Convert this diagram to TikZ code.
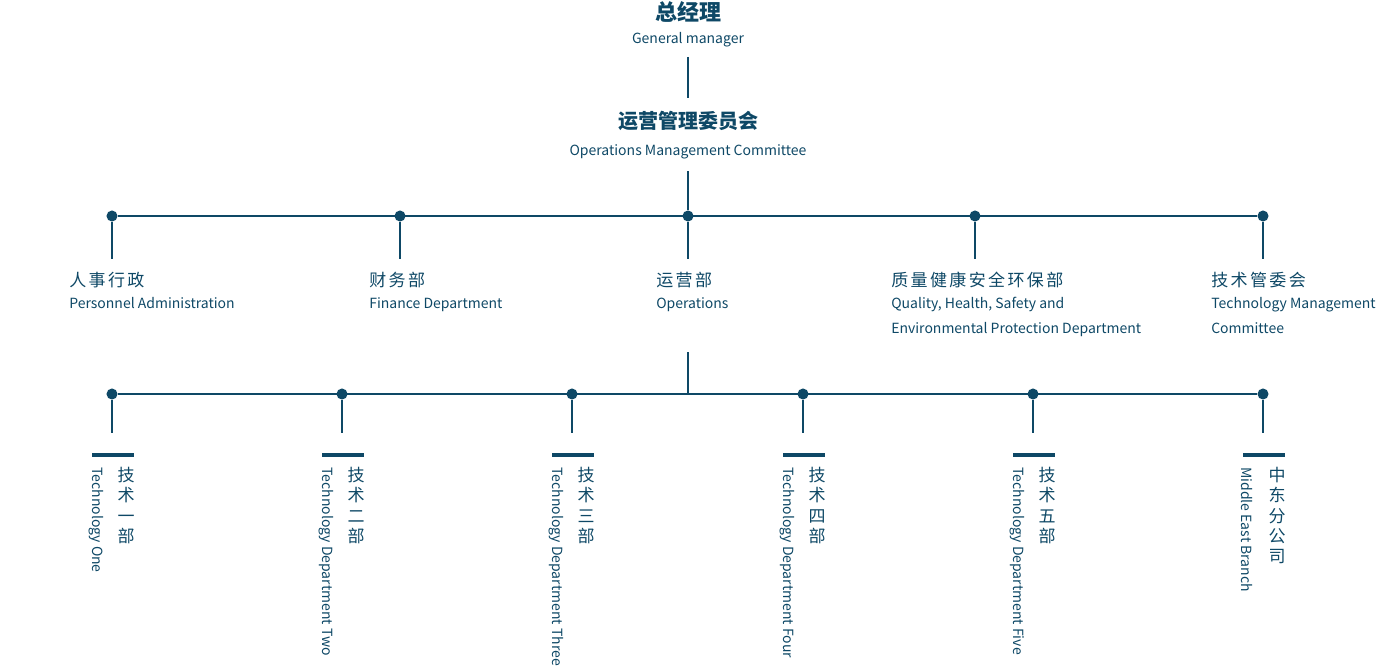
\documentclass[tikz,border=0pt]{standalone}
\usepackage{fontspec}
\newfontfamily\cjk{Noto Sans CJK SC}
\newfontfamily\cjkwide[LetterSpace=14]{Noto Sans CJK SC}
\definecolor{orgblue}{HTML}{0E4866}

\tikzset{
  link/.style={draw=orgblue,line width=1pt},
  dot/.style={circle,fill=orgblue,inner sep=0pt,minimum size=8.3pt},
  bar/.style={draw=orgblue,line width=2.4pt},
  title/.style={font=\cjk\bfseries\fontsize{16.5}{18}\selectfont,anchor=base},
  head/.style={font=\cjk\bfseries\fontsize{15}{17}\selectfont,anchor=base},
  headen/.style={font=\cjk\fontsize{10.5}{12}\selectfont,anchor=base},
  zh/.style={font=\cjkwide\fontsize{12.75}{15}\selectfont,anchor=base west},
  en/.style={font=\cjk\fontsize{10.5}{18.75}\selectfont,anchor=base west,align=left},
  zhcol/.style={font=\cjk\fontsize{12.75}{15.2}\selectfont,anchor=north,align=center},
  encol/.style={font=\cjk\fontsize{10.5}{12}\selectfont,rotate=-90,anchor=west}
}

\begin{document}
\begin{tikzpicture}[x=0.75pt,y=-0.75pt,every node/.style={inner sep=0pt,text=orgblue}]
  \useasboundingbox (0,0) rectangle (1377,667);

  % top of the chart
  \node[title] (gm) at (688,20.5) {总经理};
  \node[headen] (gmen) at (688,44) {General manager};
  \node[head] (omc) at (688,128) {运营管理委员会};
  \node[headen] (omcen) at (688,155) {Operations Management Committee};
  \coordinate (gmlow) at (688,57);
  \coordinate (omctop) at (688,98);
  \coordinate (omclow) at (688,171);
  \draw[link] (gmlow) -- (omctop);

  % first row
  \foreach \name/\x in {pa/112,fd/400,op/688,qhse/975,tmc/1263}{
    \node[dot] (\name) at (\x,216) {};
    \coordinate (\name low) at (\x,259);
    \draw[link] (\name) -- (\name low);
  }
  \draw[link] (pa) -- (tmc);
  \draw[link] (omclow) -- (op);

  % labels (base of two-line texts is their last line)
  \node[zh] (pazh) at (69,286.5) {人事行政};
  \node[en] (paen) at (69,308) {Personnel Administration};
  \node[zh] (fdzh) at (369,286.5) {财务部};
  \node[en] (fden) at (369,308) {Finance Department};
  \node[zh] (opzh) at (656,286.5) {运营部};
  \node[en] (open) at (656,308) {Operations};
  \node[zh] (qhsezh) at (891,286.5) {质量健康安全环保部};
  \node[en] (qhseen) at (891,333) {Quality, Health, Safety and\\Environmental Protection Department};
  \node[zh] (tmczh) at (1211,286.5) {技术管委会};
  \node[en] (tmcen) at (1211,333) {Technology Management\\Committee};

  % second row
  \coordinate (oplow) at (688,352);
  \coordinate (opjoin) at (688,394);
  \draw[link] (oplow) -- (opjoin);
  \foreach \name/\x/\zh/\en in {
      td1/112/{技\\术\\一\\部}/Technology One,
      td2/342/{技\\术\\二\\部}/Technology Department Two,
      td3/572/{技\\术\\三\\部}/Technology Department Three,
      td4/803/{技\\术\\四\\部}/Technology Department Four,
      td5/1033/{技\\术\\五\\部}/Technology Department Five,
      meb/1263/{中\\东\\分\\公\\司}/Middle East Branch}{
    \node[dot] (\name) at (\x,394) {};
    \coordinate (\name low) at (\x,433);
    \draw[link] (\name) -- (\name low);
    \coordinate (\name barl) at (\x-20,455);
    \coordinate (\name barr) at (\x+22,455);
    \draw[bar] (\name barl) -- (\name barr);
    \node[zhcol] (\name zh) at (\x+14,467) {\zh};
    \node[encol] (\name en) at (\x-16,467) {\en};
  }
  \draw[link] (td1) -- (meb);
\end{tikzpicture}
\end{document}
